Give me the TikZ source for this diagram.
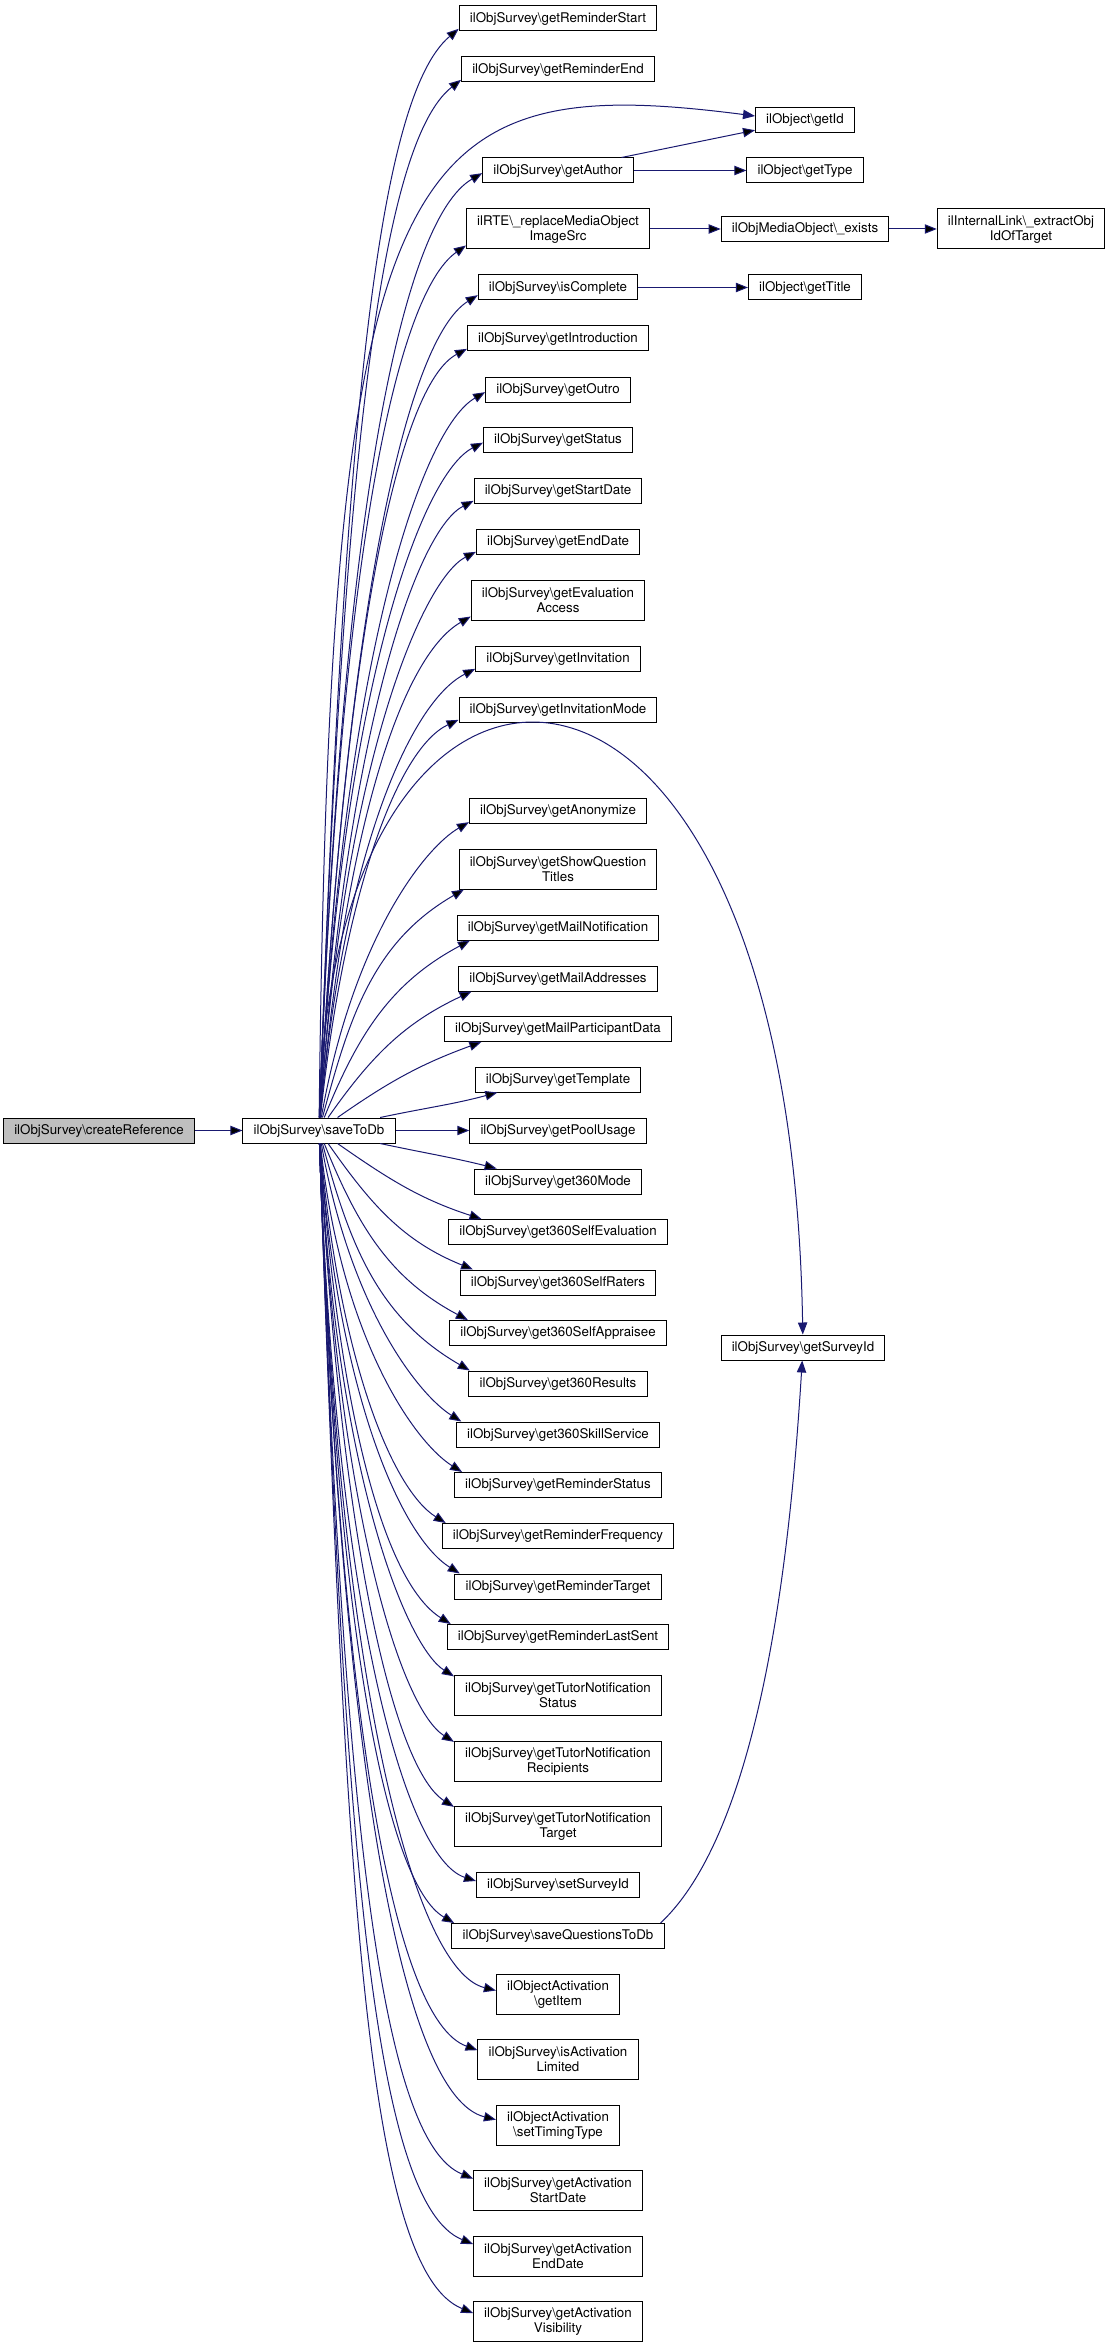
\documentclass[tikz,border=0pt]{standalone}
\usepackage{fontspec}
\setmainfont{TeX Gyre Heros}
\usetikzlibrary{arrows.meta}
\definecolor{edgeblue}{RGB}{25,25,112}
\definecolor{rootgray}{RGB}{191,191,191}

\begin{document}
\begin{tikzpicture}[x=0.75pt,y=0.75pt,>={Triangle[length=9pt,width=7pt]},
    call/.style={->,draw=edgeblue,line width=0.75pt},
    longcall/.style={out looseness=1.6,in looseness=0.25},
    midcall/.style={out looseness=1.4,in looseness=0.4},
    func/.style={draw=black,line width=0.75pt,inner xsep=8pt,inner ysep=2pt,minimum height=18.75pt,align=center,font=\fontsize{10}{11.25}\selectfont},
    func2/.style={func,minimum height=30pt}]
    \useasboundingbox (0,0) rectangle (1107,-2347);

    \node[func,fill=rootgray] (cr) at (99,-1130.5) {ilObjSurvey\textbackslash createReference};
    \node[func] (sdb) at (319,-1130.5) {ilObjSurvey\textbackslash saveToDb};

    % called from saveToDb
    \node[func] (rs) at (558,-18.5) {ilObjSurvey\textbackslash getReminderStart};
    \node[func] (re) at (558,-69.5) {ilObjSurvey\textbackslash getReminderEnd};
    \node[func] (ga) at (558,-170.5) {ilObjSurvey\textbackslash getAuthor};
    \node[func2] (rte) at (558,-229) {ilRTE\textbackslash\_replaceMediaObject\\ImageSrc};
    \node[func] (ic) at (558,-287.5) {ilObjSurvey\textbackslash isComplete};
    \node[func] (gin) at (558,-338.5) {ilObjSurvey\textbackslash getIntroduction};
    \node[func] (gou) at (558,-389.5) {ilObjSurvey\textbackslash getOutro};
    \node[func] (gst) at (558,-440) {ilObjSurvey\textbackslash getStatus};
    \node[func] (gsd) at (558,-490.5) {ilObjSurvey\textbackslash getStartDate};
    \node[func] (ged) at (558,-541.5) {ilObjSurvey\textbackslash getEndDate};
    \node[func2] (gea) at (558,-600) {ilObjSurvey\textbackslash getEvaluation\\Access};
    \node[func] (ginv) at (558,-658.5) {ilObjSurvey\textbackslash getInvitation};
    \node[func] (gim) at (558,-709.5) {ilObjSurvey\textbackslash getInvitationMode};
    \node[func] (gan) at (558,-810.5) {ilObjSurvey\textbackslash getAnonymize};
    \node[func2] (gsq) at (558,-869) {ilObjSurvey\textbackslash getShowQuestion\\Titles};
    \node[func] (gmn) at (558,-927.5) {ilObjSurvey\textbackslash getMailNotification};
    \node[func] (gma) at (558,-978.5) {ilObjSurvey\textbackslash getMailAddresses};
    \node[func] (gmp) at (558,-1029) {ilObjSurvey\textbackslash getMailParticipantData};
    \node[func] (gtp) at (558,-1079.5) {ilObjSurvey\textbackslash getTemplate};
    \node[func] (gpu) at (558,-1130.5) {ilObjSurvey\textbackslash getPoolUsage};
    \node[func] (g3m) at (558,-1181.5) {ilObjSurvey\textbackslash get360Mode};
    \node[func] (g3e) at (558,-1232) {ilObjSurvey\textbackslash get360SelfEvaluation};
    \node[func] (g3r) at (558,-1282.5) {ilObjSurvey\textbackslash get360SelfRaters};
    \node[func] (g3a) at (558,-1333) {ilObjSurvey\textbackslash get360SelfAppraisee};
    \node[func] (g3res) at (558,-1383.5) {ilObjSurvey\textbackslash get360Results};
    \node[func] (g3k) at (558,-1434.5) {ilObjSurvey\textbackslash get360SkillService};
    \node[func] (grs) at (558,-1485) {ilObjSurvey\textbackslash getReminderStatus};
    \node[func] (grf) at (558,-1536) {ilObjSurvey\textbackslash getReminderFrequency};
    \node[func] (grt) at (558,-1586.5) {ilObjSurvey\textbackslash getReminderTarget};
    \node[func] (grl) at (558,-1637) {ilObjSurvey\textbackslash getReminderLastSent};
    \node[func2] (gts) at (558,-1695.5) {ilObjSurvey\textbackslash getTutorNotification\\Status};
    \node[func2] (gtr) at (558,-1761) {ilObjSurvey\textbackslash getTutorNotification\\Recipients};
    \node[func2] (gtt) at (558,-1826) {ilObjSurvey\textbackslash getTutorNotification\\Target};
    \node[func] (ssi) at (558,-1885) {ilObjSurvey\textbackslash setSurveyId};
    \node[func] (sqd) at (558,-1936) {ilObjSurvey\textbackslash saveQuestionsToDb};
    \node[func2] (gai) at (558,-1994.5) {ilObjectActivation\\\textbackslash getItem};
    \node[func2] (gal) at (558,-2059.5) {ilObjSurvey\textbackslash isActivation\\Limited};
    \node[func2] (stt) at (558,-2125) {ilObjectActivation\\\textbackslash setTimingType};
    \node[func2] (gas) at (558,-2190.5) {ilObjSurvey\textbackslash getActivation\\StartDate};
    \node[func2] (gae) at (558,-2256) {ilObjSurvey\textbackslash getActivation\\EndDate};
    \node[func2] (gav) at (558,-2321) {ilObjSurvey\textbackslash getActivation\\Visibility};

    % third and fourth column
    \node[func] (gid) at (805,-120) {ilObject\textbackslash getId};
    \node[func] (gty) at (805,-170.5) {ilObject\textbackslash getType};
    \node[func] (mex) at (805,-229) {ilObjMediaObject\textbackslash\_exists};
    \node[func] (gti) at (805,-287.5) {ilObject\textbackslash getTitle};
    \node[func] (gsi) at (803,-1347.5) {ilObjSurvey\textbackslash getSurveyId};
    \node[func2] (ilk) at (1021,-229) {ilInternalLink\textbackslash\_extractObj\\IdOfTarget};

    \path[call]
        (cr) edge (sdb)
        (sdb) edge[out=88,in=220,longcall] ([yshift=2pt]rs.south west)
        (sdb) edge[out=88,in=218,longcall] ([yshift=2pt]re.south west)
        (sdb) edge[out=88,in=210,longcall] ([yshift=-2pt]ga.west)
        (sdb) edge[out=88,in=215,longcall] ([yshift=3pt]rte.south west)
        (sdb) edge[out=87,in=212,longcall] ([yshift=4pt]ic.south west)
        (sdb) edge[out=87,in=208,longcall] ([yshift=2pt]gin.south west)
        (sdb) edge[out=87,in=210,longcall] ([yshift=-2pt]gou.west)
        (sdb) edge[out=87,in=207,longcall] ([yshift=-2pt]gst.west)
        (sdb) edge[out=86,in=207,longcall] ([yshift=2pt]gsd.south west)
        (sdb) edge[out=86,in=207,longcall] ([yshift=2pt]ged.south west)
        (sdb) edge[out=85,in=210,midcall] ([yshift=3pt]gea.south west)
        (sdb) edge[out=85,in=207,midcall] ([yshift=2pt]ginv.south west)
        (sdb) edge[out=84,in=205,midcall] ([yshift=2pt]gim.south west)
        (sdb) edge[out=80,in=210,midcall] ([yshift=1pt]gan.south west)
        (sdb) edge[out=75,in=210] ([xshift=4pt]gsq.south west)
        (sdb) edge[out=68,in=208] ([xshift=10pt]gmn.south west)
        (sdb) edge[out=55,in=205] ([xshift=10pt]gma.south west)
        (sdb) edge[out=35,in=200] ([xshift=28pt]gmp.south west)
        (sdb) edge[out=12,in=195] ([xshift=17pt]gtp.south west)
        (sdb) edge (gpu)
        (sdb) edge[out=-12,in=166] ([xshift=17pt]g3m.north west)
        (sdb) edge[out=-35,in=162] ([xshift=25pt]g3e.north west)
        (sdb) edge[out=-55,in=158] ([xshift=10pt]g3r.north west)
        (sdb) edge[out=-68,in=152] ([xshift=14pt]g3a.north west)
        (sdb) edge[out=-75,in=150] ([xshift=1pt]g3res.north west)
        (sdb) edge[out=-80,in=148,midcall] ([xshift=4pt]g3k.north west)
        (sdb) edge[out=-84,in=148,midcall] ([xshift=6pt]grs.north west)
        (sdb) edge[out=-85,in=148,midcall] ([xshift=3pt]grf.north west)
        (sdb) edge[out=-86,in=148,midcall] ([xshift=4pt]grt.north west)
        (sdb) edge[out=-86,in=148,midcall] ([xshift=3pt]grl.north west)
        (sdb) edge[out=-87,in=148,longcall] ([yshift=-1pt]gts.north west)
        (sdb) edge[out=-87,in=148,longcall] ([yshift=-1pt]gtr.north west)
        (sdb) edge[out=-87,in=148,longcall] ([yshift=-1pt]gtt.north west)
        (sdb) edge[out=-88,in=162,longcall] ([yshift=3pt]ssi.west)
        (sdb) edge[out=-88,in=150,longcall] ([xshift=2pt]sqd.north west)
        (sdb) edge[out=-88,in=166,longcall] ([yshift=3pt]gai.west)
        (sdb) edge[out=-88,in=160,longcall] ([yshift=7pt]gal.west)
        (sdb) edge[out=-88,in=166,longcall] ([yshift=4pt]stt.west)
        (sdb) edge[out=-88,in=158,longcall] ([yshift=9pt]gas.west)
        (sdb) edge[out=-88,in=158,longcall] ([yshift=9pt]gae.west)
        (sdb) edge[out=-88,in=158,longcall] ([yshift=6pt]gav.west)
        (ga) edge (gid)
        (ga) edge (gty)
        (rte) edge (mex)
        (mex) edge (ilk)
        (ic) edge (gti)
    ;
    \draw[call] (sdb) .. controls +(11,980.5) and +(-356,46) .. ([yshift=3pt]gid.west);
    \draw[call] (sdb) .. controls +(11,570.5) and +(-13,787.5) .. (gsi);
    \draw[call] ([xshift=-3pt]sqd.north east) .. controls +(99,93) and +(-13,-212.5) .. (gsi);
\end{tikzpicture}
\end{document}
